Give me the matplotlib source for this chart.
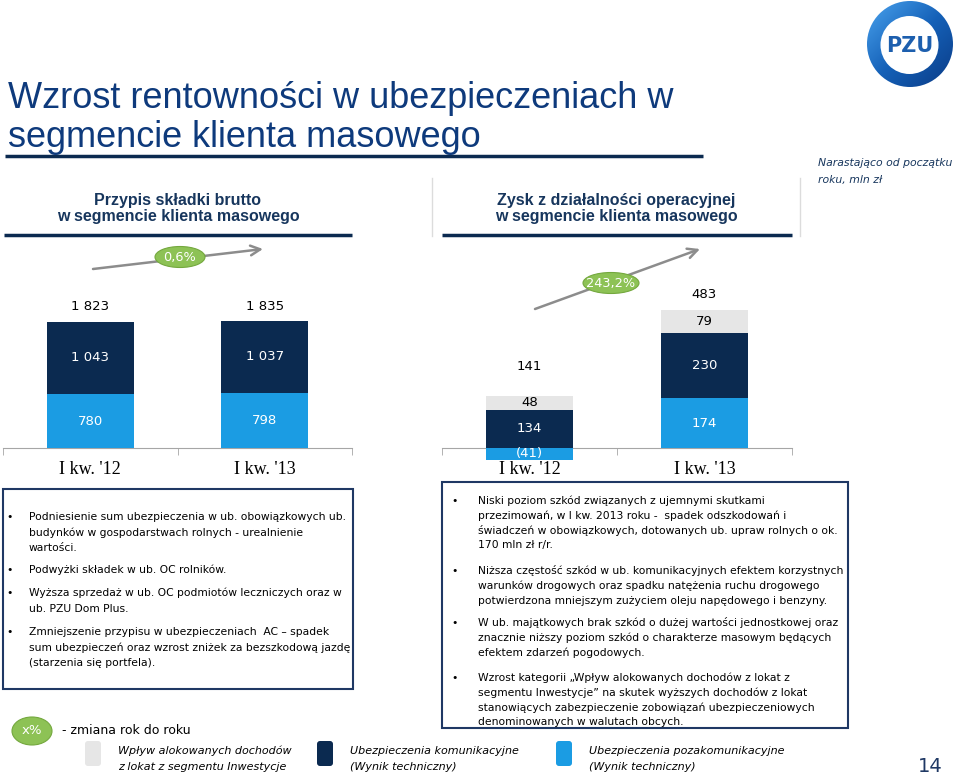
import numpy as np
import matplotlib.pyplot as plt
from matplotlib.patches import Rectangle, Ellipse, Circle, FancyBboxPatch
from matplotlib.colors import LinearSegmentedColormap

W, H = 959, 776

quarters = ["I kw. '12", "I kw. '13"]

# Przypis skladki brutto, mln zl
gwp_nonmotor = [780, 798]
gwp_motor = [1043, 1037]
gwp_total = [1823, 1835]
gwp_change = "0,6%"

# Zysk z dzialalnosci operacyjnej, mln zl
op_nonmotor = [-41, 174]
op_motor = [134, 230]
op_invest = [48, 79]
op_total = [141, 483]
op_change = "243,2%"

left_notes = [
    ["Podniesienie sum ubezpieczenia w ub. obowiązkowych ub.",
     "budynków w gospodarstwach rolnych - urealnienie",
     "wartości."],
    ["Podwyżki składek w ub. OC rolników."],
    ["Wyższa sprzedaż w ub. OC podmiotów leczniczych oraz w",
     "ub. PZU Dom Plus."],
    ["Zmniejszenie przypisu w ubezpieczeniach  AC – spadek",
     "sum ubezpieczeń oraz wzrost zniżek za bezszkodową jazdę",
     "(starzenia się portfela)."],
]
right_notes = [
    ["Niski poziom szkód związanych z ujemnymi skutkami",
     "przezimowań, w I kw. 2013 roku -  spadek odszkodowań i",
     "świadczeń w obowiązkowych, dotowanych ub. upraw rolnych o ok.",
     "170 mln zł r/r."],
    ["Niższa częstość szkód w ub. komunikacyjnych efektem korzystnych",
     "warunków drogowych oraz spadku natężenia ruchu drogowego",
     "potwierdzona mniejszym zużyciem oleju napędowego i benzyny."],
    ["W ub. majątkowych brak szkód o dużej wartości jednostkowej oraz",
     "znacznie niższy poziom szkód o charakterze masowym będących",
     "efektem zdarzeń pogodowych."],
    ["Wzrost kategorii „Wpływ alokowanych dochodów z lokat z",
     "segmentu Inwestycje” na skutek wyższych dochodów z lokat",
     "stanowiących zabezpieczenie zobowiązań ubezpieczeniowych",
     "denominowanych w walutach obcych."],
]

NAVY = '#0b2a50'
BLUE = '#1b9ce3'
LGRAY = '#e6e6e6'
TITLE = '#0e3a7c'
DARK = '#17365d'
GREEN = '#8dc255'
GREEN_EDGE = '#74a83e'
ARROW = '#8c8c8c'
AXIS = '#a6a6a6'


def pt(px):
    return px * 72 / 100


def fmt(v):
    s = f"{abs(v):,}".replace(',', ' ')
    return f"({s})" if v < 0 else s


fig = plt.figure(figsize=(W / 100, H / 100), dpi=100)
fig.patch.set_facecolor('white')
bg = fig.add_axes([0, 0, 1, 1])
bg.axis('off')


def px_axes(x0, y0, x1, y1):
    ax = fig.add_axes([x0 / W, 1 - y1 / H, (x1 - x0) / W, (y1 - y0) / H])
    ax.patch.set_alpha(0)
    return ax


def stacked(ax, layers, totals, ylim, gaps):
    x = np.arange(len(quarters))
    pos = np.zeros(len(x))
    neg = np.zeros(len(x))
    for vals, color, tcolor in layers:
        vals = np.array(vals, float)
        bottom = np.where(vals >= 0, pos, neg)
        ax.bar(x, vals, 0.5, bottom=bottom, color=color, zorder=3)
        for xi, b, v in zip(x, bottom, vals):
            ax.text(xi, b + v / 2, fmt(int(v)), ha='center', va='center',
                    color=tcolor, fontsize=9.5, zorder=4)
        pos = np.where(vals >= 0, pos + vals, pos)
        neg = np.where(vals < 0, neg + vals, neg)
    for xi, top, t, g in zip(x, pos, totals, gaps):
        ax.annotate(fmt(t), (xi, top), xytext=(0, pt(g)), textcoords='offset points',
                    ha='center', va='center', fontsize=9.5)
    ax.set_xlim(-0.5, 1.5)
    ax.set_ylim(*ylim)
    for s in ['top', 'right', 'left']:
        ax.spines[s].set_visible(False)
    ax.spines['bottom'].set_position(('data', 0))
    ax.spines['bottom'].set_color(AXIS)
    ax.set_yticks([])
    ax.set_xticks(x, quarters, fontsize=13, family='Liberation Serif')
    ax.tick_params(axis='x', length=0, pad=9.5)
    ax.set_xticks([-0.5, 0.5, 1.5], minor=True)
    ax.tick_params(axis='x', which='minor', length=5, color=AXIS)


# left chart: 1 px = 14.45 mln zl, baseline at y=448
axl = px_axes(3, 250, 352, 470)
stacked(axl, [(gwp_nonmotor, BLUE, 'white'), (gwp_motor, NAVY, 'white')],
        gwp_total, (-22 * 14.45, 198 * 14.45), [15, 15])

# right chart: 1 px = 3.5 mln zl
axr = px_axes(442, 250, 792, 470)
stacked(axr, [(op_nonmotor, BLUE, 'white'), (op_motor, NAVY, 'white'), (op_invest, LGRAY, 'black')],
        op_total, (-22 * 3.5, 198 * 3.5), [29, 15])

# logo
yy, xx = np.mgrid[0:1:120j, 0:1:120j]
cmap = LinearSegmentedColormap.from_list('pzu', ['#4aa3ee', '#1561b8', '#0a3b86'])
im = bg.imshow(0.5 * xx + 0.5 * yy, extent=(867, 953, 87, 1), cmap=cmap, aspect='auto', zorder=2)
im.set_clip_path(Circle((910, 44), 43, transform=bg.transData))
bg.add_patch(Circle((909.5, 45), 29, fc='white', ec='none', zorder=3))
bg.text(909.5, 46, 'PZU', fontsize=15, fontweight='bold', color='#1d5fae',
        ha='center', va='center', zorder=4)

bg.set_xlim(0, W)
bg.set_ylim(H, 0)

# title
bg.text(8, 108, 'Wzrost rentowności w ubezpieczeniach w', fontsize=26,
        family='Liberation Sans', color=TITLE, va='baseline')
bg.text(8, 147, 'segmencie klienta masowego', fontsize=26,
        family='Liberation Sans', color=TITLE, va='baseline')
bg.plot([5, 703], [156, 156], color=NAVY, lw=2.5, solid_capstyle='butt')

bg.text(818, 163, 'Narastająco od początku', fontsize=7.8, style='italic', color=DARK, va='center')
bg.text(818, 180, 'roku, mln zł', fontsize=7.8, style='italic', color=DARK, va='center')

# chart headers
for cx, l1, x0, x1 in [(178, 'Przypis składki brutto', 4, 352),
                       (616, 'Zysk z działalności operacyjnej', 442, 792)]:
    bg.text(cx, 200, l1, fontsize=11.5, fontweight='bold', family='Liberation Sans',
            color=DARK, ha='center', va='center')
    bg.text(cx, 216, 'w segmencie klienta masowego', fontsize=11.5, fontweight='bold',
            family='Liberation Sans', color=DARK, ha='center', va='center')
    bg.plot([x0, x1], [235, 235], color=NAVY, lw=2.5, solid_capstyle='butt')
for sx in [432, 800]:
    bg.plot([sx, sx], [178, 236], color='#dcdcdc', lw=1)

# growth arrows
for (x0, y0), (x1, y1), (ex, ey), ew, label in [((93, 269), (263, 249), (180, 257), 50, gwp_change),
                                               ((535, 309), (700, 249), (611, 283), 56, op_change)]:
    bg.annotate('', xy=(x1, y1), xytext=(x0, y0),
                arrowprops=dict(arrowstyle='->,head_length=0.7,head_width=0.35',
                                color=ARROW, lw=1.8, shrinkA=0, shrinkB=0))
    bg.add_patch(Ellipse((ex, ey), ew, 21, fc=GREEN, ec=GREEN_EDGE, lw=0.8, zorder=5))
    bg.text(ex, ey, label, fontsize=9.3, color='white', ha='center', va='center', zorder=6)

# note boxes
bg.add_patch(Rectangle((3, 489), 350, 200, fc='none', ec='#1f3864', lw=1.5))
bg.add_patch(Rectangle((442, 482), 406, 246, fc='none', ec='#1f3864', lw=1.5))


def notes(items, starts, xb, xt, step):
    for lines, y in zip(items, starts):
        bg.text(xb, y, '•', fontsize=7.75, va='center', ha='center')
        for i, line in enumerate(lines):
            bg.text(xt, y + i * step, line, fontsize=7.75, va='center')


notes(left_notes, [517, 570, 593, 632], 10, 29, 15.5)
notes(right_notes, [501, 571, 623, 678], 455, 478, 14.8)

# legend
bg.add_patch(Ellipse((32, 731), 40, 28, fc=GREEN, ec=GREEN_EDGE, lw=0.8))
bg.text(32, 731, 'x%', fontsize=9.5, color='white', ha='center', va='center')
bg.text(62, 731, '- zmiana rok do roku', fontsize=9, va='center')
for x, color, l1, l2 in [(85, LGRAY, 'Wpływ alokowanych dochodów', 'z lokat z segmentu Inwestycje'),
                         (317, NAVY, 'Ubezpieczenia komunikacyjne', '(Wynik techniczny)'),
                         (556, BLUE, 'Ubezpieczenia pozakomunikacyjne', '(Wynik techniczny)')]:
    bg.add_patch(FancyBboxPatch((x, 741), 16, 25, boxstyle='round,pad=0,rounding_size=3',
                                fc=color, ec='none'))
    bg.text(x + 33, 751, l1, fontsize=8, style='italic', va='center')
    bg.text(x + 33, 767, l2, fontsize=8, style='italic', va='center')

bg.text(930, 766, '14', fontsize=14, color='#1f3864', ha='center', va='center')

plt.savefig('out.png', dpi=100)
